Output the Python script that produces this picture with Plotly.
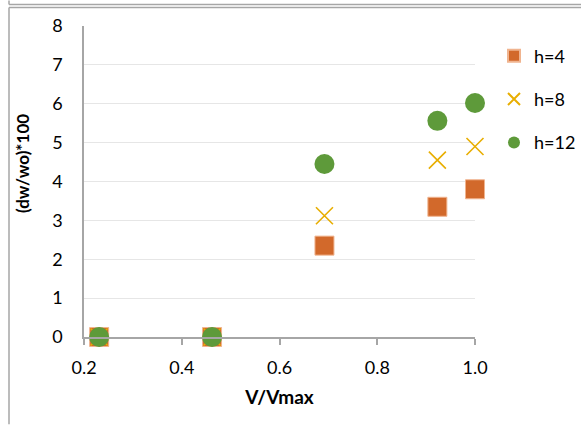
import plotly.graph_objects as go

# Relative speed and weight change for three values of h
v_ratio = [0.231, 0.462, 0.692, 0.923, 1.0]
h4 = [0.0, 0.0, 2.35, 3.35, 3.80]
h8 = [0.0, 0.0, 3.12, 4.55, 4.90]
h12 = [0.0, 0.0, 4.45, 5.56, 6.02]

x_ticks = [0.2, 0.4, 0.6, 0.8, 1.0]
x_tick_text = ["0.2", "0.4", "0.6", "0.8", "1.0"]
y_ticks = [0, 1, 2, 3, 4, 5, 6, 7, 8]

FONT = "Lato, 'Open Sans', sans-serif"

fig = go.Figure()
fig.add_trace(go.Scatter(
    x=v_ratio, y=h4, mode="markers", name="h=4", legendgroup="a", cliponaxis=False,
    marker=dict(symbol="square", size=19, color="#D2692B",
                line=dict(color="#F0B48F", width=1)),
))
fig.add_trace(go.Scatter(
    x=v_ratio, y=h8, mode="markers", name="h=8", legendgroup="b", cliponaxis=False,
    marker=dict(symbol="x-thin", size=17, color="#E8AE00",
                line=dict(color="#E8AE00", width=1.6)),
))
fig.add_trace(go.Scatter(
    x=v_ratio, y=h12, mode="markers", name="h=12", legendgroup="c", cliponaxis=False,
    marker=dict(symbol="circle", size=20, color="#5E9A3A"),
))

# Page geometry (pixels); the paper spans from the plot's left edge to the page's right edge
W, H = 581, 425
L, R, T, B = 84, 475, 25.5, 337.5
PW = W - L

def px(x):
    return (x - L) / PW

def py(y):
    return (B - y) / (B - T)

line_style = dict(color="#A6A6A6", width=1.5)
shapes = [
    dict(type="line", xref="paper", yref="paper", x0=px(9), x1=px(9), y0=py(0), y1=py(4), line=line_style),
    dict(type="line", xref="paper", yref="paper", x0=px(9), x1=px(W), y0=py(4), y1=py(4), line=line_style),
    dict(type="line", xref="paper", yref="paper", x0=px(9), x1=px(W), y0=py(7), y1=py(7), line=line_style),
    dict(type="line", xref="paper", yref="paper", x0=px(9), x1=px(9), y0=py(7), y1=py(H), line=line_style),
]

annotations = [
    dict(text="<b>(dw/wo)*100</b>", textangle=-90, xref="paper", yref="paper",
         x=px(22), y=py(164), xanchor="center", yanchor="middle", showarrow=False,
         font=dict(family=FONT, size=17, color="#000000")),
]

fig.update_layout(
    width=W, height=H,
    margin=dict(l=L, r=0, t=T, b=H - B, pad=0),
    paper_bgcolor="white", plot_bgcolor="white",
    font=dict(family=FONT, size=18, color="#000000"),
    shapes=shapes,
    annotations=annotations,
    showlegend=True,
    legend=dict(x=1.0, y=py(37), xanchor="right", yanchor="top",
                font=dict(size=18), tracegroupgap=17, itemsizing="constant",
                itemwidth=30, bgcolor="rgba(0,0,0,0)"),
    xaxis=dict(
        domain=[0, (R - L) / PW], automargin=False,
        range=[0.2, 1.0], tickvals=x_ticks, ticktext=x_tick_text,
        showgrid=False, zeroline=False,
        showline=True, linecolor="#A6A6A6", linewidth=1.5,
        ticks="outside", ticklen=6, tickcolor="#A6A6A6", tickwidth=1.5,
        ticklabelstandoff=8,
        title=dict(text="<b>V/Vmax</b>", font=dict(size=19), standoff=13),
        tickfont=dict(size=18),
    ),
    yaxis=dict(
        range=[0, 8], tickvals=y_ticks, automargin=False,
        showgrid=True, gridcolor="#E6E6E6", gridwidth=1,
        zeroline=False, showline=True, linecolor="#A6A6A6", linewidth=1.5,
        ticks="", ticklabelstandoff=16,
        tickfont=dict(size=18),
    ),
)

fig.write_html("out.html")
